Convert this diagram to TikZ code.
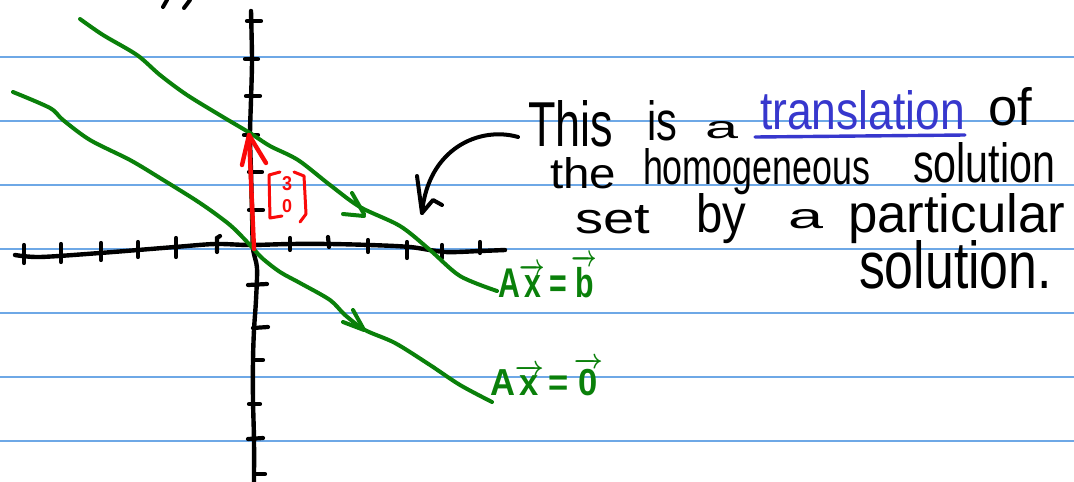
\documentclass[tikz,border=0pt]{standalone}
\usepackage{fontspec}
\usepackage{amsmath}
\usepackage{graphicx}
\setmainfont{Liberation Sans}
\setsansfont{Liberation Sans}
\definecolor{ruleblue}{RGB}{110,168,230}
\definecolor{pengreen}{RGB}{10,128,10}
\definecolor{penred}{RGB}{250,10,10}
\definecolor{penblue}{RGB}{55,55,205}
\tikzset{
  ruleline/.style={draw=ruleblue, line width=1.5pt},
  axisline/.style={draw=black, line width=4.4pt, line cap=round, line join=round},
  tickmark/.style={draw=black, line width=4.2pt, line cap=round},
  greenpen/.style={draw=pengreen, line width=4pt, line cap=round, line join=round},
  redpen/.style={draw=penred, line width=4.4pt, line cap=round, line join=round},
  redthin/.style={draw=penred, line width=3pt, line cap=round, line join=round},
  blackpen/.style={draw=black, line width=4pt, line cap=round, line join=round},
  hand/.style={inner sep=0pt, outer sep=0pt, anchor=base west, font=\fontsize{54}{60}\selectfont},
  greenlabel/.style={inner sep=0pt, outer sep=0pt, anchor=base west, text=pengreen, font=\fontsize{34}{40}\selectfont\bfseries},
  digit/.style={inner sep=0pt, outer sep=0pt, text=penred, font=\fontsize{16}{18}\selectfont\bfseries}
}
\newcommand{\handword}[3]{\resizebox{#1pt}{#2pt}{#3}}
\begin{document}
\begin{tikzpicture}[x=1pt,y=-1pt]
\useasboundingbox (0,0) rectangle (1074,482);
\fill[white] (0,0) rectangle (1074,482);
% ruled paper
\foreach \yy in {57,121,185,249,313,377,441} \draw[ruleline] (0,\yy) -- (1074,\yy);

% top marks
\draw[blackpen] (163,7) -- (167,0);
\draw[blackpen] (184,8) -- (190,0);

% horizontal axis
\draw[axisline] plot[smooth] coordinates {(15,255) (40,257) (100,253) (175,247) (215,244) (250,245) (290,244) (330,244) (370,245) (410,247) (445,252) (480,251) (505,250)};
\draw[tickmark] (24,245) -- (24,263);
\draw[tickmark] (61,244) -- (61,262);
\draw[tickmark] (101,243) -- (101,260);
\draw[tickmark] (138,242) -- (138,257);
\draw[tickmark] (176,238) -- (176,257);
\draw[tickmark] (220,236) -- (217,238) -- (217,252);
\draw[tickmark] (290,238) -- (290,250);
\draw[tickmark] (328,237) -- (329,247);
\draw[tickmark] (368,240) -- (368,252);
\draw[tickmark] (407,242) -- (407,258);
\draw[tickmark] (442,245) -- (442,258);
\draw[tickmark] (480,242) -- (480,253);

% vertical axis
\draw[axisline] plot[smooth] coordinates {(251,11) (252,60) (251,100) (250,135) (251,172) (252,210) (253,248) (257,268) (256,300) (254,330) (253,360) (253,400) (254,440) (254,482)};
\draw[tickmark] (247,21) -- (261,21);
\draw[tickmark] (245,59) -- (258,59);
\draw[tickmark] (246,96) -- (260,96);
\draw[tickmark] (244,135) -- (258,135);
\draw[tickmark] (249,172) -- (262,172);
\draw[tickmark] (249,210) -- (263,210);
\draw[tickmark] (248,285) -- (267,284);
\draw[tickmark] (253,328) -- (268,327);
\draw[tickmark] (253,360) -- (263,360);
\draw[tickmark] (249,404) -- (260,404);
\draw[tickmark] (248,439) -- (263,438);
\draw[tickmark] (255,474) -- (265,474);

% green solution lines
\draw[greenpen] plot[smooth] coordinates {(80,19) (103,35) (137,55) (160,75) (187,95) (223,117) (250,133) (270,146) (298,160) (330,185) (360,207) (400,226) (430,250) (460,276) (497,291)};
\draw[greenpen] (352,193) -- (364,214);
\draw[greenpen] (343,214) -- (364,216);
\draw[greenpen] plot[smooth] coordinates {(13,92) (50,108) (63,120) (90,140) (130,160) (160,178) (200,203) (230,225) (250,245) (262,258) (280,272) (300,283) (330,300) (345,315) (365,330) (395,343) (430,365) (460,385) (492,402)};
\draw[greenpen] (353,310) -- (363,328);
\draw[greenpen] (343,322) -- (364,330);
\draw[greenpen, line width=3pt] (250,163) -- (253,248);

% red particular solution vector
\draw[redpen] (254,249) -- (249,135);
\draw[redpen] (242,165) -- (249,135) -- (266,163);
\draw[redthin] (280,172) -- (269,175) -- (270,218) -- (282,216);
\draw[redthin] (294,172) -- (304,176) -- (306,214) -- (300,222);
\node[digit] (d3) at (287,184) {\resizebox{10pt}{14pt}{3}};
\node[digit] (d0) at (287,206) {\resizebox{10pt}{13pt}{0}};

% green labels
\node[greenlabel] (lab) at (498,297) {\handword{99}{42}{$\boldsymbol{\text{A}\overrightarrow{\text{x}}\,\text{=}\,\overrightarrow{\text{b}}}$}};
\node[greenlabel] (lah) at (490,395) {\handword{113}{37}{$\boldsymbol{\text{A}\overrightarrow{\text{x}}\,\text{=}\,\overrightarrow{\text{0}}}$}};

% text
\node[hand] (w1) at (528,146) {\handword{85}{46}{This}};
\node[hand] (w2) at (647,140) {\handword{30}{40}{is}};
\node[hand] (w3) at (705,138) {\handword{33}{17}{a}};
\node[hand, text=penblue] (w4) at (760,129) {\handword{205}{39}{translation}};
\node[hand] (w5) at (988,125) {\handword{44}{38}{of}};
\node[hand] (w6) at (550,188) {\handword{66}{31}{the}};
\node[hand] (w7) at (643,184) {\handword{227}{36}{homogeneous}};
\node[hand] (w8) at (913,182) {\handword{142}{40}{solution}};
\node[hand] (w9) at (575,233) {\handword{75}{28}{set}};
\node[hand] (w10) at (696,232) {\handword{50}{39}{by}};
\node[hand] (w11) at (788,228) {\handword{35}{19}{a}};
\node[hand] (w12) at (848,232) {\handword{217}{39}{particular}};
\node[hand] (w13) at (859,288) {\handword{193}{48}{solution.}};
\draw[draw=penblue, line width=3.4pt, line cap=round] (755,137) -- (965,135);

% curved pointer arrow
\coordinate (tip) at (422,213);
\draw[blackpen] (518,137) .. controls (480,126) and (428,148) .. (tip);
\draw[blackpen] (417,176) -- (tip) -- (433,200) -- (442,205);
\end{tikzpicture}
\end{document}
